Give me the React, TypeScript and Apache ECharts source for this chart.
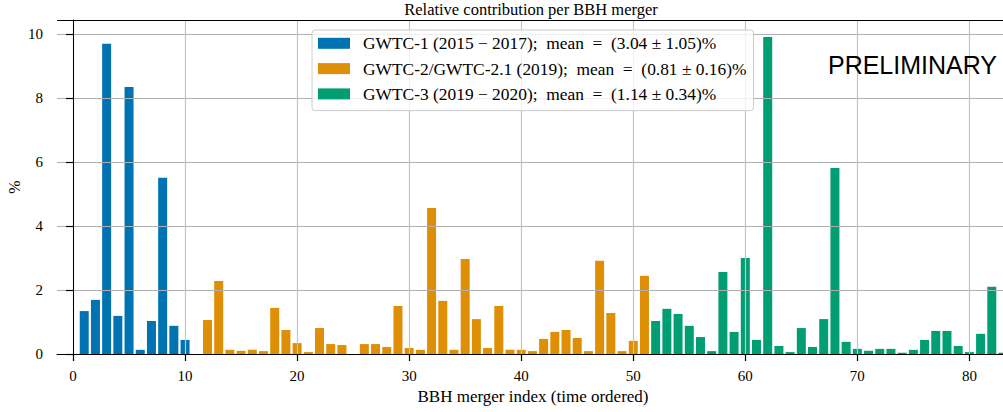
import React, { useEffect, useRef } from "react";
import * as echarts from "echarts";

const gwtc1X = [1, 2, 3, 4, 5, 6, 7, 8, 9, 10];
const gwtc1Y = [1.34, 1.69, 9.69, 1.19, 8.34, 0.13, 1.03, 5.5, 0.88, 0.44];

const gwtc2X = [
  12, 13, 14, 15, 16, 17, 18, 19, 20, 21, 22, 23, 24,
  26, 27, 28, 29, 30, 31, 32, 33, 34, 35, 36, 37, 38, 39, 40, 41, 42, 43, 44, 45, 46, 47, 48, 49, 50, 51,
];
const gwtc2Y = [
  1.06, 2.28, 0.13, 0.1, 0.13, 0.09, 1.44, 0.75, 0.34, 0.06, 0.81, 0.31, 0.28,
  0.31, 0.31, 0.22, 1.5, 0.19, 0.13, 4.56, 1.66, 0.13, 2.97, 1.09, 0.19, 1.5, 0.13, 0.13, 0.09, 0.47,
  0.69, 0.75, 0.5, 0.09, 2.91, 1.28, 0.09, 0.41, 2.44,
];

const gwtc3X = [
  52, 53, 54, 55, 56, 57, 58, 59, 60, 61, 62, 63, 64, 65, 66, 67, 68, 69, 70, 71, 72, 73, 74, 75, 76,
  77, 78, 79, 80, 81, 82, 83,
];
const gwtc3Y = [
  1.03, 1.41, 1.25, 0.88, 0.53, 0.09, 2.56, 0.69, 3.0, 0.44, 9.9, 0.25, 0.06, 0.81, 0.22, 1.09, 5.81,
  0.38, 0.16, 0.1, 0.16, 0.16, 0.04, 0.13, 0.44, 0.72, 0.72, 0.25, 0.06, 0.63, 2.1, 0.04,
];

const seriesNames = [
  "GWTC-1 (2015 \u2212 2017);  mean  =  (3.04 \u00b1 1.05)%",
  "GWTC-2/GWTC-2.1 (2019);  mean  =  (0.81 \u00b1 0.16)%",
  "GWTC-3 (2019 \u2212 2020);  mean  =  (1.14 \u00b1 0.34)%",
];
const colors = ["#0173b2", "#de8f05", "#029e73"];
const xTicks = [0, 10, 20, 30, 40, 50, 60, 70, 80];
const yTicks = [0, 2, 4, 6, 8, 10];

const SERIF = '"Liberation Serif", "Times New Roman", serif';

export default function App() {
  const ref = useRef<HTMLDivElement>(null);
  useEffect(() => {
    if (!ref.current) return;
    const chart = echarts.init(ref.current, null, { renderer: "svg" });
    const pairs = (xs: number[], ys: number[]) => xs.map((x, i) => [x, ys[i]]);
    const data = [pairs(gwtc1X, gwtc1Y), pairs(gwtc2X, gwtc2Y), pairs(gwtc3X, gwtc3Y)];
    chart.setOption({
      animation: false,
      grid: {
        left: 57,
        top: 20,
        right: 0,
        height: 334,
      },
      xAxis: {
        type: "value",
        min: -1.43,
        max: 83.0,
        z: 3,
        axisLine: { show: true, lineStyle: { color: "#000", width: 1 } },
        axisTick: { show: true, customValues: xTicks, length: 7, inside: false, lineStyle: { color: "#000", width: 1.2 } },
        axisLabel: { customValues: xTicks, margin: 14, color: "#000", fontFamily: SERIF, fontSize: 15 },
        splitLine: { show: true, lineStyle: { color: "#c4c4c4", width: 1.2 } },
      },
      yAxis: {
        type: "value",
        min: 0,
        max: 10.43,
        z: 3,
        axisLine: { show: true, lineStyle: { color: "#000", width: 1 } },
        axisTick: { show: true, customValues: yTicks, length: 7, inside: false, lineStyle: { color: "#000", width: 1.2 } },
        axisLabel: { customValues: yTicks, margin: 14, color: "#000", fontFamily: SERIF, fontSize: 15 },
        splitLine: { show: true, lineStyle: { color: "#b0b0b0", width: 1 } },
      },
      legend: {
        left: 312,
        top: 30,
        orient: "vertical",
        icon: "rect",
        itemWidth: 32,
        itemHeight: 11,
        itemGap: 7.3,
        padding: [4.3, 7, 7.7, 6],
        backgroundColor: "rgba(255,255,255,0.8)",
        borderColor: "#cccccc",
        borderWidth: 1,
        borderRadius: 3,
        z: 10,
        textStyle: { fontFamily: SERIF, fontSize: 17.4, color: "#000", lineHeight: 18, padding: [0, 0, 0, 8] },
        data: seriesNames,
      },
      series: seriesNames.map((name, i) => ({
        name,
        type: "bar",
        data: data[i],
        barWidth: 9,
        barGap: "-100%",
        itemStyle: { color: colors[i] },
        z: 2,
      })),
      graphic: [
        {
          type: "line",
          z: 5,
          shape: { x1: 57, y1: 20.5, x2: 1003, y2: 20.5 },
          style: { stroke: "#000", lineWidth: 1 },
        },
        {
          type: "text",
          x: 531,
          y: 9,
          style: { text: "Relative contribution per BBH merger", textAlign: "center", textVerticalAlign: "middle", font: `16.5px ${SERIF}`, fill: "#000" },
        },
        {
          type: "text",
          x: 533,
          y: 396,
          style: { text: "BBH merger index (time ordered)", textAlign: "center", textVerticalAlign: "middle", font: `17px ${SERIF}`, fill: "#000" },
        },
        {
          type: "text",
          x: 14,
          y: 187,
          rotation: Math.PI / 2,
          style: { text: "%", textAlign: "center", textVerticalAlign: "middle", font: `16px ${SERIF}`, fill: "#000" },
        },
        {
          type: "text",
          x: 997,
          y: 65,
          z: 20,
          style: { text: "PRELIMINARY", textAlign: "right", textVerticalAlign: "middle", font: `25px "Liberation Sans", Arial, sans-serif`, fill: "#000" },
        },
      ],
    });
    return () => chart.dispose();
  }, []);
  return <div ref={ref} style={{ position: "absolute", left: 0, top: 0, width: 1003, height: 412 }} />;
}
